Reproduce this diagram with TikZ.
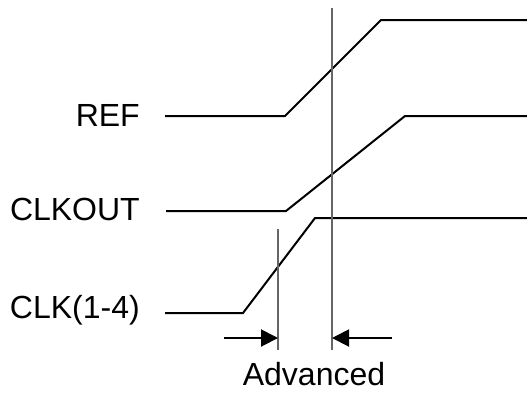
\documentclass[tikz,border=0pt]{standalone}
\usepackage{fontspec}
\setmainfont{Liberation Sans}
\usetikzlibrary{arrows.meta}
\begin{document}
\begin{tikzpicture}[x=1pt,y=-1pt,
  sig/.style={line width=2pt,black,line join=miter},
  guide/.style={line width=1.3pt,gray!80!black},
  dim/.style={line width=2pt,-{Triangle[length=17pt,width=17pt]}},
  txt/.style={font=\fontsize{32}{35}\selectfont,inner sep=0pt},
  lbl/.style={txt,anchor=base east}]
\useasboundingbox (0,0) rectangle (527,392);
% labels
\node[lbl] (ref) at (140,126) {REF};
\node[lbl] (clkout) at (140,220) {CLKOUT};
\node[lbl] (clk) at (140,318) {CLK(1-4)};
\node[txt,anchor=base,text depth=0pt] (adv) at (314,385) {Advanced};
% REF signal
\coordinate (r0) at (165,116);
\coordinate (r1) at (285,116);
\coordinate (r2) at (381,20);
\coordinate (r3) at (528,20);
\draw[sig] (r0) -- (r1) -- (r2) -- (r3);
% CLKOUT signal
\coordinate (c0) at (166,211);
\coordinate (c1) at (286,211);
\coordinate (c2) at (405,116);
\coordinate (c3) at (528,116);
\draw[sig] (c0) -- (c1) -- (c2) -- (c3);
% CLK(1-4) signal
\coordinate (k0) at (165,313);
\coordinate (k1) at (243,313);
\coordinate (k2) at (315,218);
\coordinate (k3) at (528,218);
\draw[sig] (k0) -- (k1) -- (k2) -- (k3);
% guides
\coordinate (g1t) at (332,8);
\coordinate (g1b) at (332,350);
\coordinate (g2t) at (278,229);
\coordinate (g2b) at (278,350);
\draw[guide] (g1t) -- (g1b);
\draw[guide] (g2t) -- (g2b);
% dimension arrows
\coordinate (a1s) at (224,338);
\coordinate (a1e) at (278,338);
\coordinate (a2s) at (392,338);
\coordinate (a2e) at (332,338);
\draw[dim] (a1s) -- (a1e);
\draw[dim] (a2s) -- (a2e);
\end{tikzpicture}
\end{document}
